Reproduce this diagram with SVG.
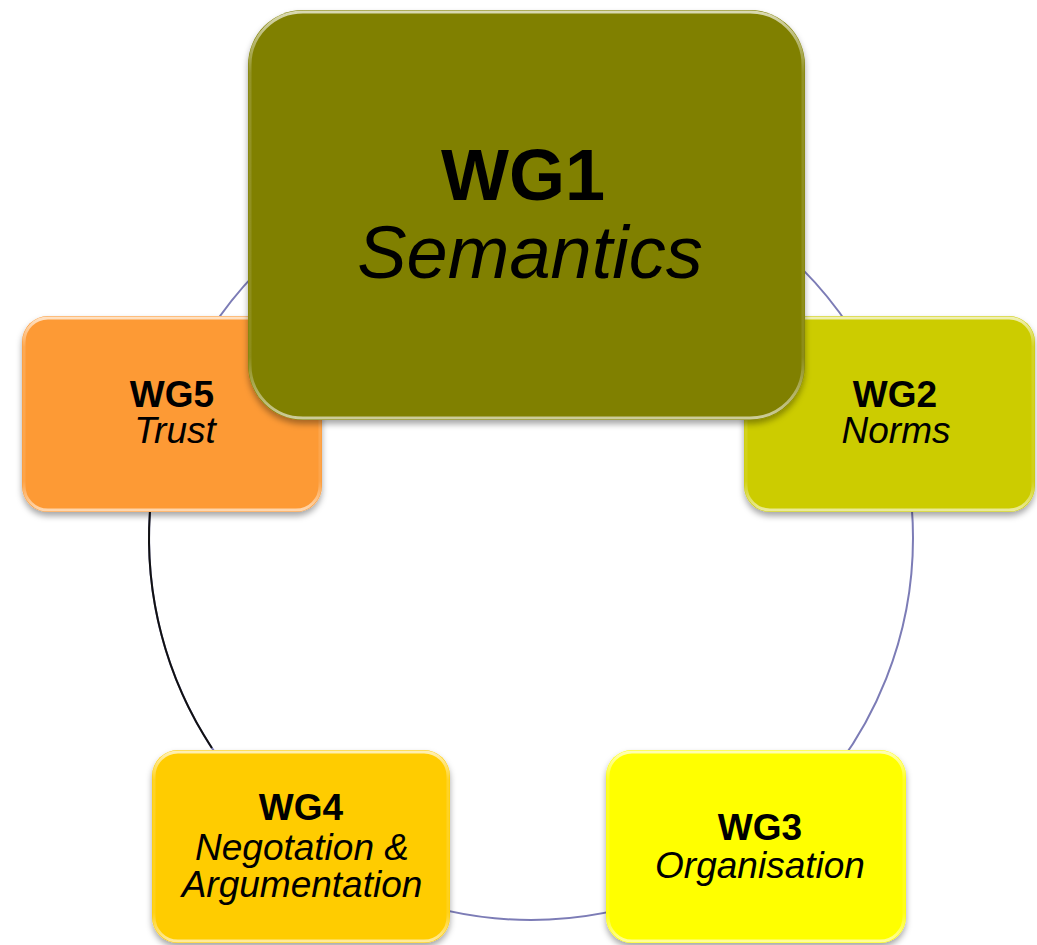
<svg xmlns="http://www.w3.org/2000/svg" width="1037" height="945" viewBox="0 0 1037 945">
<defs>
<filter id="sh" x="-10%" y="-10%" width="120%" height="125%">
<feDropShadow dx="0" dy="4" stdDeviation="3" flood-color="#000" flood-opacity="0.35"/>
</filter>
<linearGradient id="rim" x1="0" y1="0" x2="0" y2="1">
<stop offset="0" stop-color="#fff" stop-opacity="0.7"/>
<stop offset="0.15" stop-color="#fff" stop-opacity="0.15"/>
<stop offset="0.85" stop-color="#fff" stop-opacity="0.1"/>
<stop offset="1" stop-color="#fff" stop-opacity="0.6"/>
</linearGradient>
</defs>
<style>
.box{filter:url(#sh)}
.rim{fill:none;stroke:url(#rim);stroke-width:3}
.t{font-family:"Liberation Sans",Arial,sans-serif;fill:#000;text-anchor:middle}
.b{font-weight:bold}
.i{font-style:italic}
</style>
<g id="connectors">
<circle cx="531" cy="538" r="382" fill="none" stroke="#7c7cb6" stroke-width="2"/>
<path d="M149.9,512 A382,382 0 0 0 211.9,748" fill="none" stroke="#111" stroke-width="2"/>
</g>
<g id="wg5">
<rect class="box" x="22" y="316" width="300" height="196" rx="26" fill="#fd9a35"/>
<rect class="rim" x="24" y="318" width="296" height="192" rx="24"/>
<text class="t b" x="172" y="407" font-size="37">WG5</text>
<text class="t i" x="175" y="443" font-size="37">Trust</text>
</g>
<g id="wg2">
<rect class="box" x="744" y="316" width="291" height="196" rx="26" fill="#cccc00"/>
<rect class="rim" x="746" y="318" width="287" height="192" rx="24"/>
<text class="t b" x="895" y="407" font-size="37">WG2</text>
<text class="t i" x="896" y="443" font-size="37">Norms</text>
</g>
<g id="wg4">
<rect class="box" x="152" y="750" width="298" height="193" rx="26" fill="#ffcc00"/>
<rect class="rim" x="154" y="752" width="294" height="189" rx="24"/>
<text class="t b" x="301" y="820" font-size="37">WG4</text>
<text class="t i" x="302" y="860" font-size="37">Negotation &amp;</text>
<text class="t i" x="302" y="897" font-size="37">Argumentation</text>
</g>
<g id="wg3">
<rect class="box" x="606" y="750" width="300" height="193" rx="26" fill="#ffff00"/>
<rect class="rim" x="608" y="752" width="296" height="189" rx="24"/>
<text class="t b" x="760" y="840" font-size="37">WG3</text>
<text class="t i" x="760" y="878" font-size="37">Organisation</text>
</g>
<g id="wg1">
<rect class="box" x="248" y="10" width="557" height="410" rx="55" fill="#808000"/>
<rect class="rim" x="250" y="12" width="553" height="406" rx="53"/>
<text class="t b" x="523" y="200" font-size="72">WG1</text>
<text class="t i" x="530" y="278" font-size="74">Semantics</text>
</g>
</svg>
